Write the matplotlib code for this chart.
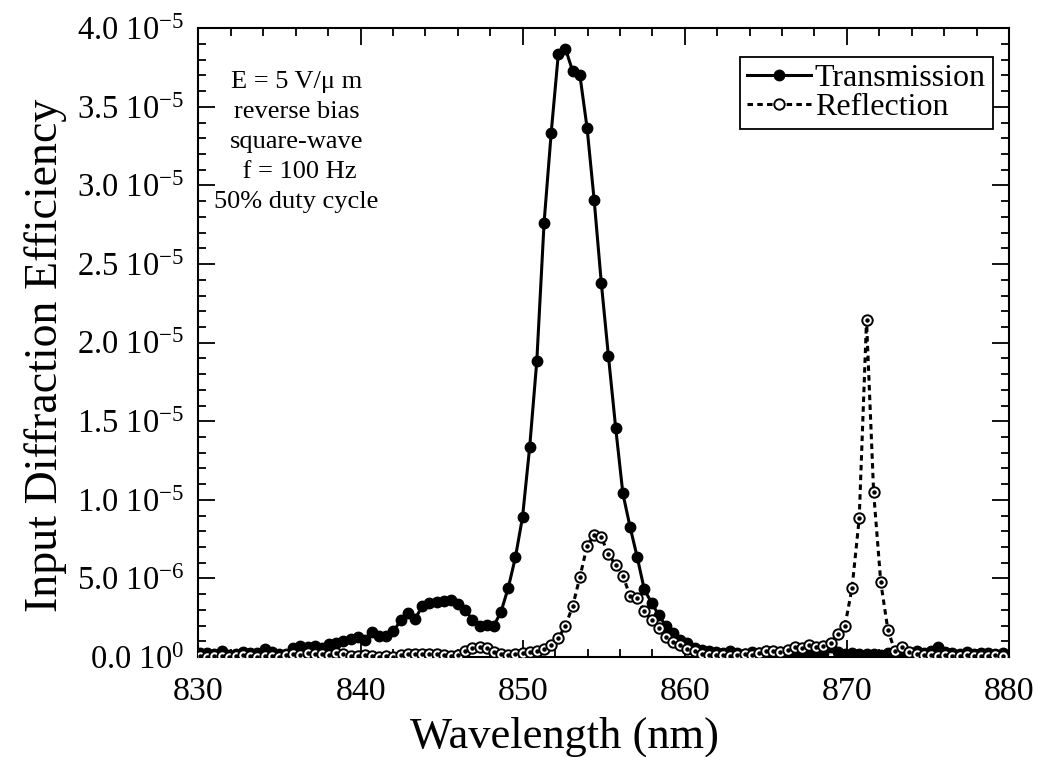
import matplotlib
matplotlib.use('Agg')
import matplotlib.pyplot as plt
from matplotlib.ticker import MultipleLocator, FixedLocator, FixedFormatter

plt.rcParams['font.family'] = ['Liberation Serif', 'DejaVu Serif']
plt.rcParams['mathtext.fontset'] = 'custom'
plt.rcParams['mathtext.rm'] = 'Liberation Serif'
plt.rcParams['mathtext.it'] = 'Liberation Serif:italic'

# scan wavelengths (nm)
wavelength = [
    830.10, 830.54, 830.98, 831.43, 831.87, 832.31, 832.75, 833.19, 833.64, 834.08,
    834.52, 834.96, 835.40, 835.85, 836.29, 836.73, 837.17, 837.61, 838.06, 838.50,
    838.94, 839.38, 839.82, 840.27, 840.71, 841.15, 841.59, 842.03, 842.48, 842.92,
    843.36, 843.80, 844.24, 844.69, 845.13, 845.57, 846.01, 846.45, 846.90, 847.34,
    847.78, 848.22, 848.66, 849.11, 849.55, 849.99, 850.43, 850.87, 851.32, 851.76,
    852.20, 852.64, 853.08, 853.53, 853.97, 854.41, 854.85, 855.29, 855.74, 856.18,
    856.62, 857.06, 857.50, 857.95, 858.39, 858.83, 859.27, 859.71, 860.16, 860.60,
    861.04, 861.48, 861.92, 862.37, 862.81, 863.25, 863.69, 864.13, 864.58, 865.02,
    865.46, 865.90, 866.34, 866.79, 867.23, 867.67, 868.11, 868.55, 869.00, 869.44,
    869.88, 870.32, 870.76, 871.21, 871.65, 872.09, 872.53, 872.97, 873.42, 873.86,
    874.30, 874.74, 875.18, 875.63, 876.07, 876.51, 876.95, 877.39, 877.84, 878.28,
    878.72, 879.16, 879.60,
]

# efficiencies in units of 1e-6
transmission = [
    0.24, 0.27, 0.19, 0.40, 0.13, 0.20, 0.34, 0.27, 0.27, 0.51,
    0.30, 0.19, 0.19, 0.55, 0.70, 0.65, 0.70, 0.55, 0.83, 0.87,
    1.02, 1.13, 1.25, 1.08, 1.57, 1.34, 1.34, 1.65, 2.33, 2.82,
    2.43, 3.22, 3.41, 3.52, 3.55, 3.62, 3.35, 2.99, 2.38, 1.99,
    2.03, 1.99, 2.87, 4.40, 6.34, 8.90, 13.35, 18.82, 27.64, 33.37,
    38.39, 38.70, 37.28, 37.01, 33.68, 29.06, 23.80, 19.14, 14.54, 10.41,
    8.29, 6.38, 4.30, 3.45, 2.67, 1.98, 1.50, 1.10, 0.91, 0.55,
    0.45, 0.35, 0.30, 0.25, 0.35, 0.28, 0.20, 0.30, 0.25, 0.35,
    0.22, 0.30, 0.25, 0.18, 0.30, 0.22, 0.35, 0.28, 0.65, 0.30,
    0.20, 0.25, 0.18, 0.22, 0.20, 0.15, 0.25, 0.20, 0.30, 0.25,
    0.35, 0.28, 0.40, 0.65, 0.30, 0.25, 0.20, 0.30, 0.22, 0.25,
    0.28, 0.22, 0.25,
]

reflection = [
    0.05, 0.02, 0.05, 0.08, 0.03, 0.05, 0.10, 0.05, 0.03, 0.08,
    0.05, 0.02, 0.10, 0.20, 0.15, 0.25, 0.18, 0.22, 0.10, 0.25,
    0.20, 0.08, 0.05, 0.10, 0.05, 0.03, 0.08, 0.02, 0.13, 0.19,
    0.19, 0.19, 0.19, 0.19, 0.13, 0.06, 0.13, 0.40, 0.55, 0.62,
    0.55, 0.34, 0.19, 0.13, 0.19, 0.27, 0.34, 0.40, 0.49, 0.76,
    1.19, 2.00, 3.22, 5.09, 7.06, 7.76, 7.61, 6.55, 5.85, 5.17,
    3.90, 3.73, 2.93, 2.35, 1.83, 1.29, 0.97, 0.76, 0.50, 0.35,
    0.22, 0.15, 0.10, 0.12, 0.08, 0.15, 0.20, 0.10, 0.25, 0.35,
    0.40, 0.30, 0.45, 0.62, 0.55, 0.76, 0.62, 0.70, 0.91, 1.44,
    1.99, 4.41, 8.82, 21.43, 10.47, 4.75, 1.72, 0.35, 0.65, 0.30,
    0.20, 0.15, 0.10, 0.05, 0.10, 0.08, 0.05, 0.12, 0.05, 0.08,
    0.05, 0.10, 0.05,
]

notes = ['E = 5 V/\u03bc m', 'reverse bias', 'square-wave', ' f = 100 Hz', '50% duty cycle']

ytick_vals = [0, 5, 10, 15, 20, 25, 30, 35, 40]
ytick_text = [r'0.0 10$^{0}$', r'5.0 10$^{-6}$', r'1.0 10$^{-5}$', r'1.5 10$^{-5}$',
              r'2.0 10$^{-5}$', r'2.5 10$^{-5}$', r'3.0 10$^{-5}$', r'3.5 10$^{-5}$',
              r'4.0 10$^{-5}$']

fig = plt.figure(figsize=(10.37, 7.57), dpi=100)
ax = fig.add_axes([0.1914, 0.1321, 0.7816, 0.8305])

ax.plot(wavelength, transmission, '-o', color='black', lw=2.2, ms=7.5,
        mfc='black', mec='black', label='Transmission', zorder=3)
ax.plot(wavelength, reflection, linestyle=(0, (1.8, 1.4)), marker='o', color='black',
        lw=2.2, ms=7.5, mfc='white', mec='black', mew=1.4, label='Reflection', zorder=4)
# small dot in the centre of each open circle
ax.plot(wavelength, reflection, linestyle='none', marker='o', ms=2.2, color='black', zorder=5)

ax.set_xlim(830, 880)
ax.set_ylim(0, 40)
ax.xaxis.set_major_locator(MultipleLocator(10))
ax.xaxis.set_minor_locator(MultipleLocator(2))
ax.yaxis.set_major_locator(FixedLocator(ytick_vals))
ax.yaxis.set_major_formatter(FixedFormatter(ytick_text))
ax.yaxis.set_minor_locator(MultipleLocator(1))

ax.tick_params(which='both', direction='in', top=True, right=True, width=1.3, colors='black')
ax.tick_params(which='major', length=12)
ax.tick_params(which='minor', length=6)
ax.tick_params(axis='x', which='major', labelsize=24.5, pad=14)
ax.tick_params(axis='y', which='major', labelsize=23.5, pad=10)
for s in ax.spines.values():
    s.set_linewidth(1.5)

ax.set_xlabel('Wavelength (nm)', fontsize=32)
ax.set_ylabel('Input Diffraction Efficiency', fontsize=33)
ax.xaxis.set_label_coords(0.451, -0.094)
ax.yaxis.set_label_coords(-0.162, 0.48)

ax.text(0.121, 0.932, '\n'.join(notes), transform=ax.transAxes, ha='center', va='top',
        fontsize=19, linespacing=1.47)

leg = ax.legend(loc='upper right', bbox_to_anchor=(0.98, 0.955), fontsize=23,
                frameon=True, fancybox=False, edgecolor='black', framealpha=1,
                handlelength=2.0, handletextpad=0.12, borderpad=0.22, labelspacing=0.0,
                borderaxespad=0.0)
leg.get_frame().set_linewidth(1.3)

fig.savefig('out.png', dpi=100)
